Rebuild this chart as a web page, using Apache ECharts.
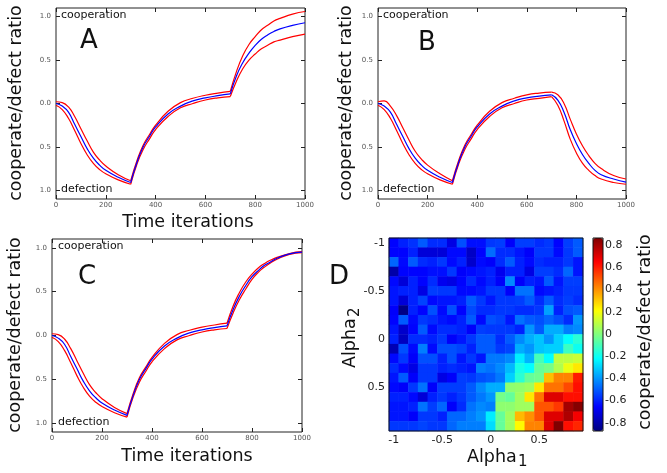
<!DOCTYPE html>
<html>
<head>
<meta charset="utf-8">
<script src="https://cdn.jsdelivr.net/npm/echarts@6/dist/echarts.min.js"></script>
<style>
html, body { margin: 0; padding: 0; background: #fff; }
#main { width: 667px; height: 473px; }
</style>
</head>
<body>
<div id="main"></div>
<script>
// time axis samples (iterations)
var times = [0, 25, 50, 75, 100, 125, 150, 175, 200, 250, 300, 325, 350, 375, 400, 450, 500, 550, 600, 650, 700, 725, 750, 775, 800, 825, 850, 875, 900, 950, 1000];
// the regime switches at t=300 and t=700 (indices in times)
var phaseBreaks = [0, 10, 20, 30];

// panel A
var blueA  = [0.0, -0.03, -0.10, -0.24, -0.38, -0.52, -0.63, -0.71, -0.77, -0.85, -0.91, -0.68, -0.50, -0.38, -0.27, -0.12, -0.03, 0.03, 0.065, 0.09, 0.11, 0.32, 0.47, 0.58, 0.67, 0.74, 0.79, 0.83, 0.86, 0.90, 0.93];
var upperA = [0.02, 0.01, -0.04, -0.15, -0.29, -0.43, -0.56, -0.65, -0.72, -0.82, -0.89, -0.66, -0.48, -0.36, -0.25, -0.09, 0.01, 0.06, 0.095, 0.12, 0.14, 0.37, 0.55, 0.68, 0.77, 0.85, 0.90, 0.95, 0.98, 1.03, 1.06];
var lowerA = [-0.02, -0.07, -0.17, -0.31, -0.46, -0.59, -0.69, -0.76, -0.81, -0.88, -0.93, -0.70, -0.53, -0.41, -0.30, -0.15, -0.05, 0.0, 0.04, 0.065, 0.08, 0.26, 0.40, 0.50, 0.57, 0.63, 0.67, 0.71, 0.73, 0.77, 0.80];

// panel B
var blueB  = [0.0, -0.03, -0.10, -0.24, -0.38, -0.52, -0.63, -0.71, -0.77, -0.85, -0.91, -0.68, -0.50, -0.38, -0.27, -0.12, -0.03, 0.03, 0.065, 0.085, 0.10, 0.04, -0.10, -0.30, -0.46, -0.59, -0.69, -0.77, -0.82, -0.87, -0.905];
var upperB = [0.02, 0.03, -0.03, -0.14, -0.28, -0.42, -0.55, -0.64, -0.71, -0.81, -0.89, -0.66, -0.48, -0.36, -0.25, -0.09, 0.01, 0.06, 0.10, 0.12, 0.13, 0.10, 0.00, -0.18, -0.35, -0.49, -0.60, -0.69, -0.75, -0.83, -0.87];
var lowerB = [-0.02, -0.07, -0.17, -0.31, -0.46, -0.59, -0.69, -0.76, -0.81, -0.88, -0.93, -0.70, -0.53, -0.41, -0.30, -0.15, -0.05, 0.0, 0.04, 0.06, 0.08, -0.02, -0.20, -0.41, -0.57, -0.69, -0.77, -0.83, -0.87, -0.91, -0.93];

// panel C
var blueC  = [0.0, -0.03, -0.10, -0.24, -0.38, -0.52, -0.63, -0.71, -0.77, -0.85, -0.91, -0.68, -0.50, -0.38, -0.27, -0.12, -0.03, 0.03, 0.065, 0.09, 0.11, 0.30, 0.45, 0.57, 0.67, 0.74, 0.80, 0.84, 0.88, 0.93, 0.95];
var upperC = [0.02, 0.01, -0.04, -0.15, -0.29, -0.43, -0.56, -0.65, -0.72, -0.82, -0.89, -0.66, -0.48, -0.36, -0.25, -0.09, 0.01, 0.06, 0.095, 0.12, 0.14, 0.34, 0.49, 0.61, 0.70, 0.77, 0.82, 0.86, 0.89, 0.935, 0.955];
var lowerC = [-0.02, -0.07, -0.17, -0.31, -0.46, -0.59, -0.69, -0.76, -0.81, -0.88, -0.93, -0.70, -0.53, -0.41, -0.30, -0.15, -0.05, 0.0, 0.04, 0.065, 0.08, 0.26, 0.41, 0.53, 0.64, 0.72, 0.78, 0.83, 0.87, 0.925, 0.945];

var ratioTicks = [-1, -0.5, 0, 0.5, 1];

// panel D: alpha1 (columns) x alpha2 (rows, -1 at top)
var alphaVals = ['-1', '-0.9', '-0.8', '-0.7', '-0.6', '-0.5', '-0.4', '-0.3', '-0.2', '-0.1', '0', '0.1', '0.2', '0.3', '0.4', '0.5', '0.6', '0.7', '0.8', '0.9'];
var heat = [
  [-0.65, -0.60, -0.57, -0.50, -0.58, -0.58, -0.70, -0.52, -0.63, -0.63, -0.56, -0.55, -0.66, -0.55, -0.55, -0.58, -0.56, -0.65, -0.55, -0.50],
  [-0.65, -0.65, -0.60, -0.72, -0.72, -0.72, -0.64, -0.64, -0.75, -0.65, -0.47, -0.58, -0.58, -0.62, -0.66, -0.56, -0.56, -0.64, -0.56, -0.50],
  [-0.48, -0.64, -0.50, -0.58, -0.60, -0.56, -0.64, -0.60, -0.74, -0.64, -0.66, -0.58, -0.50, -0.60, -0.64, -0.58, -0.60, -0.60, -0.56, -0.62],
  [-0.80, -0.65, -0.65, -0.65, -0.63, -0.63, -0.56, -0.66, -0.64, -0.62, -0.60, -0.68, -0.60, -0.60, -0.70, -0.55, -0.55, -0.58, -0.48, -0.62],
  [-0.64, -0.72, -0.60, -0.65, -0.58, -0.68, -0.70, -0.65, -0.58, -0.64, -0.60, -0.66, -0.42, -0.66, -0.60, -0.62, -0.50, -0.62, -0.55, -0.55],
  [-0.62, -0.60, -0.60, -0.70, -0.55, -0.56, -0.56, -0.64, -0.64, -0.62, -0.56, -0.56, -0.66, -0.46, -0.46, -0.64, -0.62, -0.60, -0.56, -0.56],
  [-0.62, -0.72, -0.60, -0.54, -0.64, -0.62, -0.62, -0.60, -0.50, -0.56, -0.62, -0.56, -0.56, -0.55, -0.50, -0.58, -0.50, -0.58, -0.55, -0.58],
  [-0.66, -0.86, -0.60, -0.65, -0.52, -0.64, -0.52, -0.65, -0.53, -0.58, -0.58, -0.56, -0.56, -0.58, -0.58, -0.56, -0.38, -0.60, -0.52, -0.50],
  [-0.65, -0.50, -0.64, -0.56, -0.58, -0.62, -0.64, -0.60, -0.50, -0.64, -0.52, -0.54, -0.62, -0.46, -0.50, -0.52, -0.48, -0.52, -0.58, -0.40],
  [-0.62, -0.74, -0.65, -0.50, -0.64, -0.58, -0.58, -0.60, -0.66, -0.55, -0.56, -0.56, -0.56, -0.60, -0.40, -0.50, -0.36, -0.36, -0.44, -0.42],
  [-0.60, -0.76, -0.58, -0.58, -0.60, -0.56, -0.66, -0.62, -0.56, -0.50, -0.50, -0.58, -0.50, -0.42, -0.36, -0.32, -0.40, -0.30, -0.22, -0.15],
  [-0.78, -0.52, -0.64, -0.44, -0.64, -0.52, -0.52, -0.54, -0.60, -0.50, -0.50, -0.56, -0.54, -0.36, -0.40, -0.32, -0.30, -0.30, -0.12, -0.20],
  [-0.64, -0.56, -0.66, -0.52, -0.52, -0.60, -0.52, -0.62, -0.56, -0.62, -0.45, -0.45, -0.42, -0.25, -0.35, -0.10, -0.22, 0.10, 0.10, 0.12],
  [-0.58, -0.64, -0.70, -0.56, -0.56, -0.60, -0.58, -0.60, -0.62, -0.44, -0.46, -0.42, -0.34, -0.18, -0.22, -0.05, -0.02, 0.08, 0.18, 0.25],
  [-0.62, -0.50, -0.66, -0.56, -0.56, -0.70, -0.66, -0.55, -0.56, -0.52, -0.50, -0.45, -0.30, -0.15, -0.05, -0.03, 0.32, 0.42, 0.42, 0.60],
  [-0.64, -0.66, -0.56, -0.46, -0.66, -0.55, -0.55, -0.55, -0.50, -0.42, -0.36, -0.36, 0.02, 0.03, 0.05, 0.25, 0.45, 0.45, 0.52, 0.62],
  [-0.60, -0.60, -0.64, -0.72, -0.60, -0.56, -0.60, -0.56, -0.50, -0.45, -0.40, -0.02, -0.05, 0.05, 0.25, 0.45, 0.70, 0.70, 0.62, 0.62],
  [-0.62, -0.62, -0.60, -0.46, -0.55, -0.48, -0.66, -0.58, -0.46, -0.42, -0.44, 0.02, 0.02, 0.05, 0.05, 0.50, 0.50, 0.55, 0.80, 0.85],
  [-0.62, -0.62, -0.66, -0.56, -0.56, -0.60, -0.48, -0.48, -0.44, -0.40, -0.25, -0.05, 0.05, 0.33, 0.40, 0.50, 0.70, 0.70, 0.78, 0.66],
  [-0.56, -0.56, -0.56, -0.54, -0.56, -0.56, -0.48, -0.44, -0.44, -0.44, -0.28, -0.05, 0.05, 0.22, 0.42, 0.42, 0.70, 0.86, 0.62, 0.58]
];
var colorbarTicks = [-0.8, -0.6, -0.4, -0.2, 0, 0.2, 0.4, 0.6, 0.8];
var jet = ['#00007f', '#0000ff', '#007fff', '#00ffff', '#7fff7f', '#ffff00', '#ff7f00', '#ff0000', '#7f0000'];

var FONT = 'DejaVu Sans';

// [t, value] pairs for one phase (from index a to index b inclusive)
function pairs(vals, a, b) {
  var out = [];
  for (var i = a; i <= b; i++) out.push([times[i], vals[i]]);
  return out;
}

var lineGrids = [
  { left: 56, top: 8, width: 249, height: 191 },
  { left: 378, top: 8, width: 248, height: 191 },
  { left: 52, top: 239, width: 250, height: 193 }
];
var panels = [
  [upperA, lowerA, blueA],
  [upperB, lowerB, blueB],
  [upperC, lowerC, blueC]
];

var grids = [], xAxes = [], yAxes = [], series = [];
var tickStyle = { color: '#222', width: 1 };

lineGrids.forEach(function (g, i) {
  grids.push({ left: g.left, top: g.top, width: g.width, height: g.height, show: true, borderColor: '#222', borderWidth: 1, backgroundColor: 'transparent' });
  ['bottom', 'top'].forEach(function (pos) {
    xAxes.push({
      gridIndex: i, type: 'value', position: pos, min: 0, max: 1000, interval: 200,
      axisLine: { show: false, onZero: false }, splitLine: { show: false },
      axisTick: { inside: true, length: 4, lineStyle: tickStyle },
      axisLabel: {
        show: pos === 'bottom', fontSize: 7, color: '#555', margin: 3, fontFamily: FONT,
        formatter: function (v) { return String(v); }
      }
    });
  });
  ['left', 'right'].forEach(function (pos) {
    yAxes.push({
      gridIndex: i, type: 'value', position: pos, min: -1.1, max: 1.1,
      axisLine: { show: false, onZero: false }, splitLine: { show: false },
      axisTick: { inside: true, length: 4, lineStyle: tickStyle, customValues: ratioTicks },
      axisLabel: {
        show: pos === 'left', fontSize: 7, color: '#555', margin: 5, fontFamily: FONT,
        customValues: ratioTicks,
        formatter: function (v) { return Math.abs(v).toFixed(1); }
      }
    });
  });
  var cols = ['#ff0000', '#ff0000', '#0000ff'];
  panels[i].forEach(function (vals, k) {
    for (var p = 0; p < phaseBreaks.length - 1; p++) {
      series.push({
        type: 'line', xAxisIndex: 2 * i, yAxisIndex: 2 * i,
        data: pairs(vals, phaseBreaks[p], phaseBreaks[p + 1]),
        showSymbol: false, smooth: 0.5,
        lineStyle: { color: cols[k], width: 1.2 }, itemStyle: { color: cols[k] },
        z: k === 2 ? 3 : 2, animation: false, silent: true
      });
    }
  });
});

// heatmap grid (index 3)
grids.push({ left: 389, top: 238, width: 194, height: 193, show: true, borderColor: '#111', borderWidth: 1, backgroundColor: 'transparent', z: 3 });
['bottom', 'top'].forEach(function (pos) {
  xAxes.push({
    gridIndex: 3, type: 'category', data: alphaVals, position: pos,
    axisLine: { show: false, onZero: false }, splitLine: { show: false }, splitArea: { show: false },
    axisTick: { inside: true, length: 3, alignWithLabel: true, interval: 4, lineStyle: tickStyle },
    axisLabel: { show: pos === 'bottom', interval: 4, fontSize: 11, color: '#222', margin: 4, fontFamily: FONT }
  });
});
['left', 'right'].forEach(function (pos) {
  yAxes.push({
    gridIndex: 3, type: 'category', data: alphaVals, position: pos, inverse: true,
    axisLine: { show: false, onZero: false }, splitLine: { show: false }, splitArea: { show: false },
    axisTick: { inside: true, length: 3, alignWithLabel: true, interval: 4, lineStyle: tickStyle },
    axisLabel: { show: pos === 'left', interval: 4, fontSize: 11, color: '#222', margin: 4, fontFamily: FONT }
  });
});
var heatData = [];
heat.forEach(function (row, r) {
  row.forEach(function (v, c) { heatData.push([c, r, v]); });
});
series.push({
  type: 'heatmap', xAxisIndex: 6, yAxisIndex: 6, data: heatData,
  emphasis: { disabled: true }, progressive: 0, animation: false, silent: true
});
var heatIndex = series.length - 1;

// colorbar axis (grid index 4)
grids.push({ left: 593, top: 238, width: 10, height: 193, show: false });
xAxes.push({ gridIndex: 4, type: 'value', show: false, min: 0, max: 1 });
yAxes.push({
  gridIndex: 4, type: 'value', position: 'right', min: -0.875, max: 0.865,
  axisLine: { show: false, onZero: false }, splitLine: { show: false },
  axisTick: { inside: true, length: 3, lineStyle: tickStyle, customValues: colorbarTicks },
  axisLabel: {
    fontSize: 11, color: '#222', margin: 2, fontFamily: FONT, customValues: colorbarTicks,
    formatter: function (v) { return v === 0 ? '0' : v.toFixed(1); }
  }
});

function txt(s, x, y, size, opts) {
  opts = opts || {};
  return {
    type: 'text', x: x, y: y, rotation: opts.rot || 0, z: 10, silent: true,
    style: {
      text: s, fontSize: size, fontFamily: FONT, fill: '#111',
      align: opts.align || 'center', verticalAlign: 'middle'
    }
  };
}
var R = Math.PI / 2;
var graphics = [
  txt('cooperate/defect ratio', 16, 103, 17.5, { rot: R }),
  txt('cooperate/defect ratio', 346, 103, 17.5, { rot: R }),
  txt('cooperate/defect ratio', 15, 335, 17.5, { rot: R }),
  txt('cooperate/defect ratio', 645, 332, 17.5, { rot: R }),
  txt('Time iterations', 188, 222, 17.5),
  txt('Time iterations', 187, 456, 17.5),
  txt('A', 89, 41, 26),
  txt('B', 427, 43, 26),
  txt('C', 87, 277, 26),
  txt('D', 339, 277, 26),
  txt('cooperation', 61, 15, 11, { align: 'left' }),
  txt('defection', 61, 189, 11, { align: 'left' }),
  txt('cooperation', 383, 15, 11, { align: 'left' }),
  txt('defection', 383, 189, 11, { align: 'left' }),
  txt('cooperation', 58, 246, 11, { align: 'left' }),
  txt('defection', 58, 422, 11, { align: 'left' }),
  txt('Alpha', 467, 457, 17.5, { align: 'left' }),
  txt('1', 518, 462, 15, { align: 'left' }),
  txt('Alpha', 350, 368, 17.5, { align: 'left', rot: R }),
  txt('2', 355, 317, 15, { align: 'left', rot: R }),
  {
    type: 'rect', z: 10, silent: true,
    shape: { x: 593, y: 238, width: 10, height: 193 },
    style: { fill: 'none', stroke: '#111', lineWidth: 1 }
  }
];

var chart = echarts.init(document.getElementById('main'), null, { renderer: 'canvas' });
chart.setOption({
  animation: false,
  backgroundColor: '#fff',
  textStyle: { fontFamily: FONT },
  grid: grids,
  xAxis: xAxes,
  yAxis: yAxes,
  visualMap: {
    type: 'continuous', seriesIndex: heatIndex, min: -0.87, max: 0.86,
    left: 593, top: 238, itemWidth: 10, itemHeight: 193, padding: 0,
    calculable: false, hoverLink: false, realtime: false,
    inRange: { color: jet }
  },
  series: series,
  graphic: graphics
});
</script>
</body>
</html>
